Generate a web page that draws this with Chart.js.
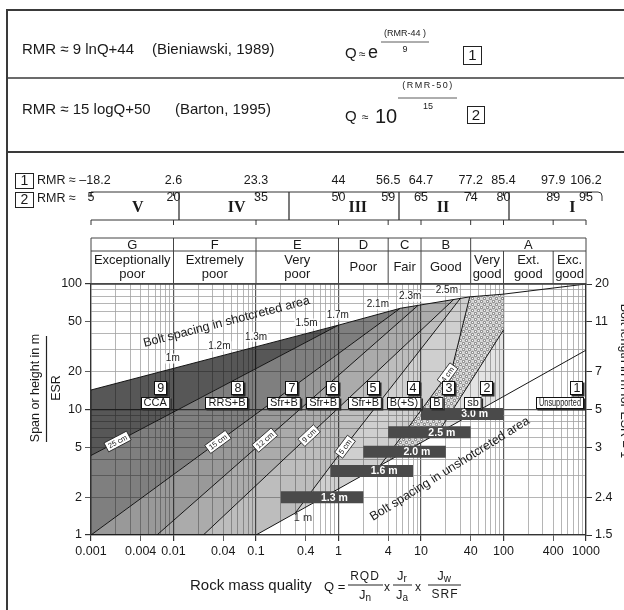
<!DOCTYPE html>
<html lang="en">
<head>
<meta charset="utf-8">
<title>Q-system support chart</title>
<script src="https://cdn.jsdelivr.net/npm/chart.js@4.4.1/dist/chart.umd.min.js"></script>
<style>
  html, body { margin: 0; padding: 0; background: #fff; }
  canvas { display: block; }
</style>
</head>
<body>
<canvas id="qChart" width="624" height="610"></canvas>
<script>
// Ejes: valores de Q y de Span/ESR con sus etiquetas
const qTicks = [0.001, 0.004, 0.01, 0.04, 0.1, 0.4, 1, 4, 10, 40, 100, 400, 1000];
const qTickLabels = ['0.001', '0.004', '0.01', '0.04', '0.1', '0.4', '1', '4', '10', '40', '100', '400', '1000'];
const spanTicks = [1, 2, 5, 10, 20, 50, 100];
const boltTickLabels = ['1.5', '2.4', '3', '5', '7', '11', '20'];

// Filas de RMR encima del grafico
const rmrQ = [0.001, 0.01, 0.1, 1, 4, 10, 40, 100, 400, 1000];
const rmrBieniawski = ['\u201318.2', '2.6', '23.3', '44', '56.5', '64.7', '77.2', '85.4', '97.9', '106.2'];
const rmrBarton = ['5', '20', '35', '50', '59', '65', '74', '80', '89', '95'];
const rmrClassLimits = [21, 41, 61, 81];
const rmrClassNames = ['V', 'IV', 'III', 'II', 'I'];
const rmrClassAt = [13.5, 31.5, 53.5, 69, 92.5];

// Clases de calidad de la roca
const classLimits = [0.001, 0.01, 0.1, 1, 4, 10, 40, 1000];
const classLetters = ['G', 'F', 'E', 'D', 'C', 'B', 'A'];
const qualityLimits = [0.001, 0.01, 0.1, 1, 4, 10, 40, 100, 400, 1000];
const qualityNames = ['Exceptionally\npoor', 'Extremely\npoor', 'Very\npoor', 'Poor', 'Fair', 'Good', 'Very\ngood', 'Ext.\ngood', 'Exc.\ngood'];

// Lineas del grafico, puntos [Q, Span/ESR]
const topLine = [[0.001, 14.3], [1, 47], [5.6, 64], [39, 79], [100, 83], [1000, 100]];
const line98 = [[0.001, 4.3], [1, 47]];
const line87 = [[0.001, 1], [5.6, 64]];
const line76 = [[0.0063, 1], [9.2, 67.5]];
const line65 = [[0.023, 1], [25, 75.4]];
const line54 = [[0.3, 1.5], [1.46, 6], [30, 76.8]];
const line43 = [[3.2, 3.58], [23.8, 21.3], [39, 79]];
const line32 = [[16, 6.47], [100, 43]];
const lowLine = [[0.1, 1], [100, 12.7], [1000, 29.7]];

// Categorias de sostenimiento
const regionNumbers = ['9', '8', '7', '6', '5', '4', '3', '2', '1'];
const regionNames = ['CCA', 'RRS+B', 'Sfr+B', 'Sfr+B', 'Sfr+B', 'B(+S)', 'B', 'sb', 'Unsupported'];
const regionNameQ = [0.006, 0.0445, 0.218, 0.65, 2.1, 6.2, 15.6, 42.7, 484];
const regionNumberQ = [0.007, 0.0605, 0.273, 0.857, 2.62, 8.0, 21.8, 63, 777];

// Barras de espaciado de pernos
const barLabels = ['1.3 m', '1.6 m', '2.0 m', '2.5 m', '3.0 m'];
const barFrom = [0.2, 0.8, 2, 4, 10];
const barTo = [2, 8, 20, 40, 100];
const barSpan = [2.0, 3.24, 4.6, 6.6, 9.2];

// Etiquetas sobre las lineas
const spacingLabels = ['1m', '1.2m', '1.3m', '1.5m', '1.7m', '2.1m', '2.3m', '2.5m'];
const spacingQ = [0.0098, 0.036, 0.1, 0.41, 0.98, 3.0, 7.4, 20.6];
const cmLabels = ['25 cm', '15 cm', '12 cm', '9 cm', '5 cm', '4 cm'];
const cmQ = [0.0021, 0.0346, 0.128, 0.44, 1.2, 21];
const cmLines = [line98, line87, line76, line65, line54, line43];

const FONT = "'Liberation Sans', Arial, sans-serif";
const SERIF = "'Liberation Serif', 'Times New Roman', serif";

const xy = pts => pts.map(p => ({x: p[0], y: p[1]}));
const same = (a, b) => Math.abs(Math.log10(a / b)) < 1e-6;
const qFromRmr = r => Math.pow(10, (r - 50) / 15);

// Borde de una zona: linea propia y luego la linea superior
function boundary(prefix, line) {
    const lastQ = line[line.length - 1][0];
    const tail = topLine.filter(p => p[0] >= lastQ);
    return xy([...prefix, ...line, ...tail]);
}

function logGrid(min, max) {
    const out = [];
    for (let e = Math.round(Math.log10(min)); e < Math.round(Math.log10(max)); e++) {
        for (let m = 1; m < 10; m++) out.push(m * Math.pow(10, e));
    }
    out.push(max);
    return out;
}

function valueOn(line, q) {
    for (let i = 1; i < line.length; i++) {
        const [q0, v0] = line[i - 1], [q1, v1] = line[i];
        if (q >= q0 && q <= q1) {
            const t = Math.log(q / q0) / Math.log(q1 / q0);
            return {v: Math.exp(Math.log(v0) + t * Math.log(v1 / v0)), a: line[i - 1], b: line[i]};
        }
    }
    return null;
}

function dotPattern() {
    const c = document.createElement('canvas');
    c.width = 6; c.height = 6;
    const g = c.getContext('2d');
    g.fillStyle = '#d8d8d8';
    g.fillRect(0, 0, 6, 6);
    g.fillStyle = '#fff';
    g.strokeStyle = '#444';
    g.lineWidth = 0.7;
    [[1.5, 1.5], [4.5, 4.5]].forEach(([x, y]) => {
        g.beginPath();
        g.arc(x, y, 1.2, 0, Math.PI * 2);
        g.fill();
        g.stroke();
    });
    return g.createPattern(c, 'repeat');
}

const bottom = [[0.001, 1]];
const bounds = [
    xy(topLine),
    boundary([], line98),
    boundary([], line87),
    boundary(bottom, line76),
    boundary(bottom, line65),
    boundary([...bottom, lowLine[0]], line54),
    boundary([...bottom, lowLine[0]], line43),
    boundary([...bottom, lowLine[0]], line32),
    boundary(bottom, lowLine.filter(p => p[0] <= 100))
];
const shades = ['rgba(0,0,0,0.66)', 'rgba(0,0,0,0.5)', 'rgba(0,0,0,0.4)', 'rgba(0,0,0,0.33)',
    'rgba(0,0,0,0.26)', 'rgba(0,0,0,0.19)', dotPattern(), 'rgba(0,0,0,0.11)'];

const datasets = [];
bounds.forEach((b, i) => {
    datasets.push({
        data: b,
        fill: i === 0 ? false : '-1',
        backgroundColor: i === 0 ? 'rgba(0,0,0,0)' : shades[i - 1],
        borderColor: 'rgba(0,0,0,0)',
        pointRadius: 0,
        order: 3
    });
});
[topLine, line98, line87, line76, line65, line54, line43, line32, lowLine].forEach(l => {
    datasets.push({data: xy(l), borderColor: '#151515', borderWidth: 1, fill: false, pointRadius: 0, order: 2});
});
barLabels.forEach((s, i) => {
    datasets.push({
        data: [{x: barFrom[i], y: barSpan[i]}, {x: barTo[i], y: barSpan[i]}],
        borderColor: '#4a4a4a', borderWidth: 12, borderCapStyle: 'butt',
        fill: false, pointRadius: 0, order: 1
    });
});

// Texto simple en el canvas
function text(ctx, s, x, y, size, o = {}) {
    ctx.font = (o.bold ? 'bold ' : '') + size + 'px ' + (o.family || FONT);
    ctx.fillStyle = o.color || '#1a1a1a';
    ctx.textAlign = o.align || 'left';
    ctx.textBaseline = 'middle';
    if (o.max) ctx.fillText(s, x, y, o.max); else ctx.fillText(s, x, y);
    return ctx.measureText(s).width;
}
function seg(ctx, x1, y1, x2, y2, w) {
    ctx.lineWidth = w || 1;
    ctx.beginPath();
    ctx.moveTo(x1, y1);
    ctx.lineTo(x2, y2);
    ctx.stroke();
}
function numBox(ctx, x, y, w, h, s, size) {
    ctx.fillStyle = '#fff';
    ctx.fillRect(x, y, w, h);
    ctx.strokeStyle = '#222';
    ctx.lineWidth = 1;
    ctx.strokeRect(x + 0.5, y + 0.5, w, h);
    text(ctx, s, x + w / 2 + 0.5, y + h / 2 + 1, size, {align: 'center'});
}
function shadowBox(ctx, cx, cy, w, h, s, size, max) {
    const x = Math.round(cx - w / 2), y = Math.round(cy - h / 2);
    ctx.fillStyle = '#2a2a2a';
    ctx.fillRect(x + 1.5, y + 1.5, w, h);
    ctx.fillStyle = '#fff';
    ctx.fillRect(x, y, w, h);
    ctx.strokeStyle = '#111';
    ctx.lineWidth = 1;
    ctx.strokeRect(x + 0.5, y + 0.5, w - 1, h - 1);
    text(ctx, s, cx, cy + 0.5, size, {align: 'center', max: max});
}
function subText(ctx, main, sub, cx, y, size) {
    ctx.font = size + 'px ' + FONT;
    const w1 = ctx.measureText(main).width;
    ctx.font = (size - 3) + 'px ' + FONT;
    const w2 = ctx.measureText(sub).width;
    const x0 = cx - (w1 + w2) / 2;
    text(ctx, main, x0, y, size);
    text(ctx, sub, x0 + w1, y + 3, size - 3);
}

const decor = {
    id: 'decor',
    afterDraw(chart) {
        const ctx = chart.ctx;
        const area = chart.chartArea;
        const px = q => chart.scales.x.getPixelForValue(q);
        const py = v => chart.scales.y.getPixelForValue(v);
        ctx.save();

        // Marco y filas de formulas
        ctx.strokeStyle = '#3a3a3a';
        seg(ctx, 7, 10, 624, 10, 2);
        seg(ctx, 7, 78, 624, 78, 1.5);
        seg(ctx, 7, 152, 624, 152, 2);
        seg(ctx, 7, 9, 7, 610, 2);

        text(ctx, 'RMR \u2248 9 lnQ+44', 22, 50, 15);
        text(ctx, '(Bieniawski, 1989)', 152, 50, 15);
        text(ctx, 'Q', 345, 54, 15);
        text(ctx, '\u2248', 359, 55, 12);
        text(ctx, 'e', 368, 53, 18);
        text(ctx, '(RMR-44 )', 405, 34, 9, {align: 'center'});
        ctx.strokeStyle = '#333';
        seg(ctx, 381, 42, 429, 42, 0.8);
        text(ctx, '9', 405, 50, 9, {align: 'center'});
        numBox(ctx, 463, 46, 18, 18, '1', 15);

        text(ctx, 'RMR \u2248 15 logQ+50', 22, 110, 15);
        text(ctx, '(Barton, 1995)', 175, 110, 15);
        text(ctx, 'Q', 345, 117, 15);
        text(ctx, '\u2248', 362, 118, 12);
        text(ctx, '10', 375, 117, 20);
        ctx.letterSpacing = '1.5px';
        text(ctx, '(RMR-50)', 428, 86, 9, {align: 'center'});
        ctx.letterSpacing = '0px';
        ctx.strokeStyle = '#333';
        seg(ctx, 398, 98, 457, 98, 0.8);
        text(ctx, '15', 428, 107, 9, {align: 'center'});
        numBox(ctx, 467, 106, 17, 17, '2', 15);

        // Filas de RMR
        numBox(ctx, 15, 173, 18, 15, '1', 14);
        text(ctx, 'RMR \u2248', 37, 181, 12.5);
        rmrQ.forEach((q, i) => text(ctx, rmrBieniawski[i], px(q) + (i === 0 ? 4 : 0), 181, 12.5, {align: 'center'}));
        numBox(ctx, 15, 192, 18, 15, '2', 14);
        text(ctx, 'RMR \u2248', 37, 199, 12.5);
        ctx.strokeStyle = '#333';
        ctx.lineWidth = 1;
        ctx.beginPath();
        ctx.moveTo(px(0.001), 197);
        ctx.lineTo(px(0.001), 192);
        ctx.lineTo(598, 192);
        ctx.quadraticCurveTo(602, 192, 602, 196);
        ctx.lineTo(602, 201);
        ctx.stroke();
        seg(ctx, px(0.001), 220, px(1000), 220, 1);
        rmrQ.forEach((q, i) => {
            seg(ctx, px(q), 192, px(q), 196, 1);
            seg(ctx, px(q), 220, px(q), 225, 1);
            text(ctx, rmrBarton[i], px(q) + (i === 2 ? 5 : 0), 198, 12.5, {align: 'center'});
        });
        rmrClassLimits.forEach(r => seg(ctx, px(qFromRmr(r)), 192, px(qFromRmr(r)), 220, 1.3));
        rmrClassNames.forEach((s, i) => text(ctx, s, px(qFromRmr(rmrClassAt[i])), 208, 16, {align: 'center', bold: true, family: SERIF}));

        // Tabla de clases G..A
        const tTop = 238, tMid = 251, tBot = area.top;
        ctx.strokeStyle = '#444';
        seg(ctx, area.left, tTop, area.right, tTop, 1);
        seg(ctx, area.left, tMid, area.right, tMid, 1);
        seg(ctx, area.left, tBot, area.right, tBot, 1.3);
        classLimits.forEach(q => seg(ctx, px(q), tTop, px(q), tMid, 1));
        qualityLimits.forEach(q => seg(ctx, px(q), tMid, px(q), tBot, 1));
        classLetters.forEach((s, i) => text(ctx, s, (px(classLimits[i]) + px(classLimits[i + 1])) / 2, 245, 13, {align: 'center'}));
        qualityNames.forEach((s, i) => {
            const cx = (px(qualityLimits[i]) + px(qualityLimits[i + 1])) / 2;
            const parts = s.split('\n');
            if (parts.length === 1) text(ctx, parts[0], cx, 267, 13, {align: 'center'});
            else {
                text(ctx, parts[0], cx, 260, 13, {align: 'center'});
                text(ctx, parts[1], cx, 274, 13, {align: 'center'});
            }
        });

        // Etiquetas de espaciado sobre la linea superior
        spacingLabels.forEach((s, i) => {
            const on = valueOn(topLine, spacingQ[i]);
            const x = px(spacingQ[i]), y = py(on.v) - 10;
            ctx.font = '10px ' + FONT;
            const w = ctx.measureText(s).width;
            ctx.fillStyle = 'rgba(255,255,255,0.85)';
            ctx.fillRect(x - w / 2 - 1, y - 5, w + 2, 10);
            text(ctx, s, x, y, 10, {align: 'center'});
        });
        ctx.save();
        ctx.translate(px(0.044), py(49.8));
        ctx.rotate(-14.6 * Math.PI / 180);
        text(ctx, 'Bolt spacing in shotcreted area', 0, 0, 12.5, {align: 'center'});
        ctx.restore();
        ctx.save();
        ctx.translate(px(22.4), py(3.36));
        ctx.rotate(-32 * Math.PI / 180);
        text(ctx, 'Bolt spacing in unshotcreted area', 0, 0, 12.5, {align: 'center'});
        ctx.restore();
        text(ctx, '1 m', px(0.37), py(1.37), 11, {align: 'center', color: '#333'});

        // Etiquetas de espesor de hormigon proyectado
        cmLabels.forEach((s, i) => {
            const on = valueOn(cmLines[i], cmQ[i]);
            const x = px(cmQ[i]), y = py(on.v);
            const ang = Math.atan2(py(on.b[1]) - py(on.a[1]), px(on.b[0]) - px(on.a[0]));
            ctx.save();
            ctx.translate(x, y);
            ctx.rotate(ang);
            ctx.font = '7.5px ' + FONT;
            const w = ctx.measureText(s).width + 5;
            ctx.fillStyle = '#fff';
            ctx.fillRect(-w / 2, -5, w, 10);
            ctx.strokeStyle = '#222';
            ctx.lineWidth = 0.8;
            ctx.strokeRect(-w / 2, -5, w, 10);
            text(ctx, s, 0, 0.5, 7.5, {align: 'center'});
            ctx.restore();
        });

        // Texto de las barras
        barLabels.forEach((s, i) => {
            const x1 = px(barFrom[i]), x2 = px(barTo[i]);
            text(ctx, s, x1 + 0.65 * (x2 - x1), py(barSpan[i]) + 0.5, 10.5, {align: 'center', bold: true, color: '#fff'});
        });

        // Numeros y nombres de las categorias
        regionNames.forEach((s, i) => {
            ctx.font = '11px ' + FONT;
            const w = Math.min(ctx.measureText(s).width + 6, 48);
            shadowBox(ctx, px(regionNameQ[i]), py(11.3), w, 12, s, 11, 42);
            shadowBox(ctx, px(regionNumberQ[i]), py(14.8), 13, 14, regionNumbers[i], 12.5);
        });

        // Titulos de los ejes
        ctx.save();
        ctx.translate(36, 388);
        ctx.rotate(-Math.PI / 2);
        text(ctx, 'Span or height in m', 0, 0, 12.5, {align: 'center'});
        ctx.restore();
        ctx.strokeStyle = '#222';
        seg(ctx, 46.5, 336, 46.5, 442, 1.2);
        ctx.save();
        ctx.translate(57, 388);
        ctx.rotate(-Math.PI / 2);
        text(ctx, 'ESR', 0, 0, 12.5, {align: 'center'});
        ctx.restore();
        ctx.save();
        ctx.translate(624, 381);
        ctx.rotate(Math.PI / 2);
        text(ctx, 'Bolt length in m for ESR = 1', 0, 0, 12.5, {align: 'center'});
        ctx.restore();

        text(ctx, 'Rock mass quality', 190, 586, 15);
        text(ctx, 'Q =', 324, 587, 13);
        ctx.letterSpacing = '1px';
        text(ctx, 'RQD', 365, 577, 12, {align: 'center'});
        ctx.letterSpacing = '0px';
        subText(ctx, 'J', 'n', 365, 595, 13);
        seg(ctx, 348, 585, 383, 585, 1);
        text(ctx, 'x', 387, 588, 12, {align: 'center'});
        subText(ctx, 'J', 'r', 402, 576, 13);
        subText(ctx, 'J', 'a', 402, 595, 13);
        seg(ctx, 393, 585, 412, 585, 1);
        text(ctx, 'x', 418, 588, 12, {align: 'center'});
        subText(ctx, 'J', 'w', 444, 576, 13);
        ctx.letterSpacing = '1px';
        text(ctx, 'SRF', 445, 595, 12, {align: 'center'});
        ctx.letterSpacing = '0px';
        seg(ctx, 428, 585, 461, 585, 1);

        ctx.restore();
    }
};

const xGrid = logGrid(0.001, 1000);
const yGrid = logGrid(1, 100);
const isDecade = v => same(v, Math.pow(10, Math.round(Math.log10(v))));
const qLabel = v => { const i = qTicks.findIndex(t => same(t, v)); return i < 0 ? '' : qTickLabels[i]; };
const spanIdx = v => spanTicks.findIndex(t => same(t, v));
const gridColor = c => isDecade(c.tick.value) ? '#5a5a5a' : '#a2a2a2';
const gridWidth = c => isDecade(c.tick.value) ? 1.2 : 0.8;

new Chart(document.getElementById('qChart'), {
    type: 'line',
    data: {datasets},
    options: {
        responsive: false,
        animation: false,
        events: [],
        layout: {padding: {top: 284, left: 0, right: 0, bottom: 0}},
        plugins: {legend: {display: false}, tooltip: {enabled: false}},
        scales: {
            x: {
                type: 'logarithmic', min: 0.001, max: 1000, position: 'bottom',
                afterBuildTicks: s => { s.ticks = xGrid.map(v => ({value: v})); },
                afterFit: s => { s.height = 75; },
                ticks: {autoSkip: false, maxRotation: 0, minRotation: 0, padding: 3, color: '#1a1a1a',
                    font: {family: FONT, size: 12.5}, callback: v => qLabel(v)},
                grid: {color: gridColor, lineWidth: gridWidth, tickLength: 6,
                    tickColor: c => qLabel(c.tick.value) ? '#333' : 'rgba(0,0,0,0)'},
                border: {color: '#333', width: 1.3}
            },
            y: {
                type: 'logarithmic', min: 1, max: 100, position: 'left',
                afterBuildTicks: s => { s.ticks = yGrid.map(v => ({value: v})); },
                afterFit: s => { s.width = 91; },
                ticks: {autoSkip: false, padding: 3, color: '#1a1a1a', font: {family: FONT, size: 12.5},
                    callback: v => spanIdx(v) < 0 ? '' : String(spanTicks[spanIdx(v)])},
                grid: {color: gridColor, lineWidth: gridWidth, tickLength: 6,
                    tickColor: c => spanIdx(c.tick.value) < 0 ? 'rgba(0,0,0,0)' : '#333'},
                border: {color: '#333', width: 1.3}
            },
            y2: {
                type: 'logarithmic', min: 1, max: 100, position: 'right',
                afterBuildTicks: s => { s.ticks = yGrid.map(v => ({value: v})); },
                afterFit: s => { s.width = 38; },
                ticks: {autoSkip: false, padding: 3, color: '#1a1a1a', font: {family: FONT, size: 12.5},
                    callback: v => spanIdx(v) < 0 ? '' : boltTickLabels[spanIdx(v)]},
                grid: {drawOnChartArea: false, tickLength: 6,
                    tickColor: c => spanIdx(c.tick.value) < 0 ? 'rgba(0,0,0,0)' : '#333'},
                border: {color: '#333', width: 1.3}
            }
        }
    },
    plugins: [decor]
});
</script>
</body>
</html>
